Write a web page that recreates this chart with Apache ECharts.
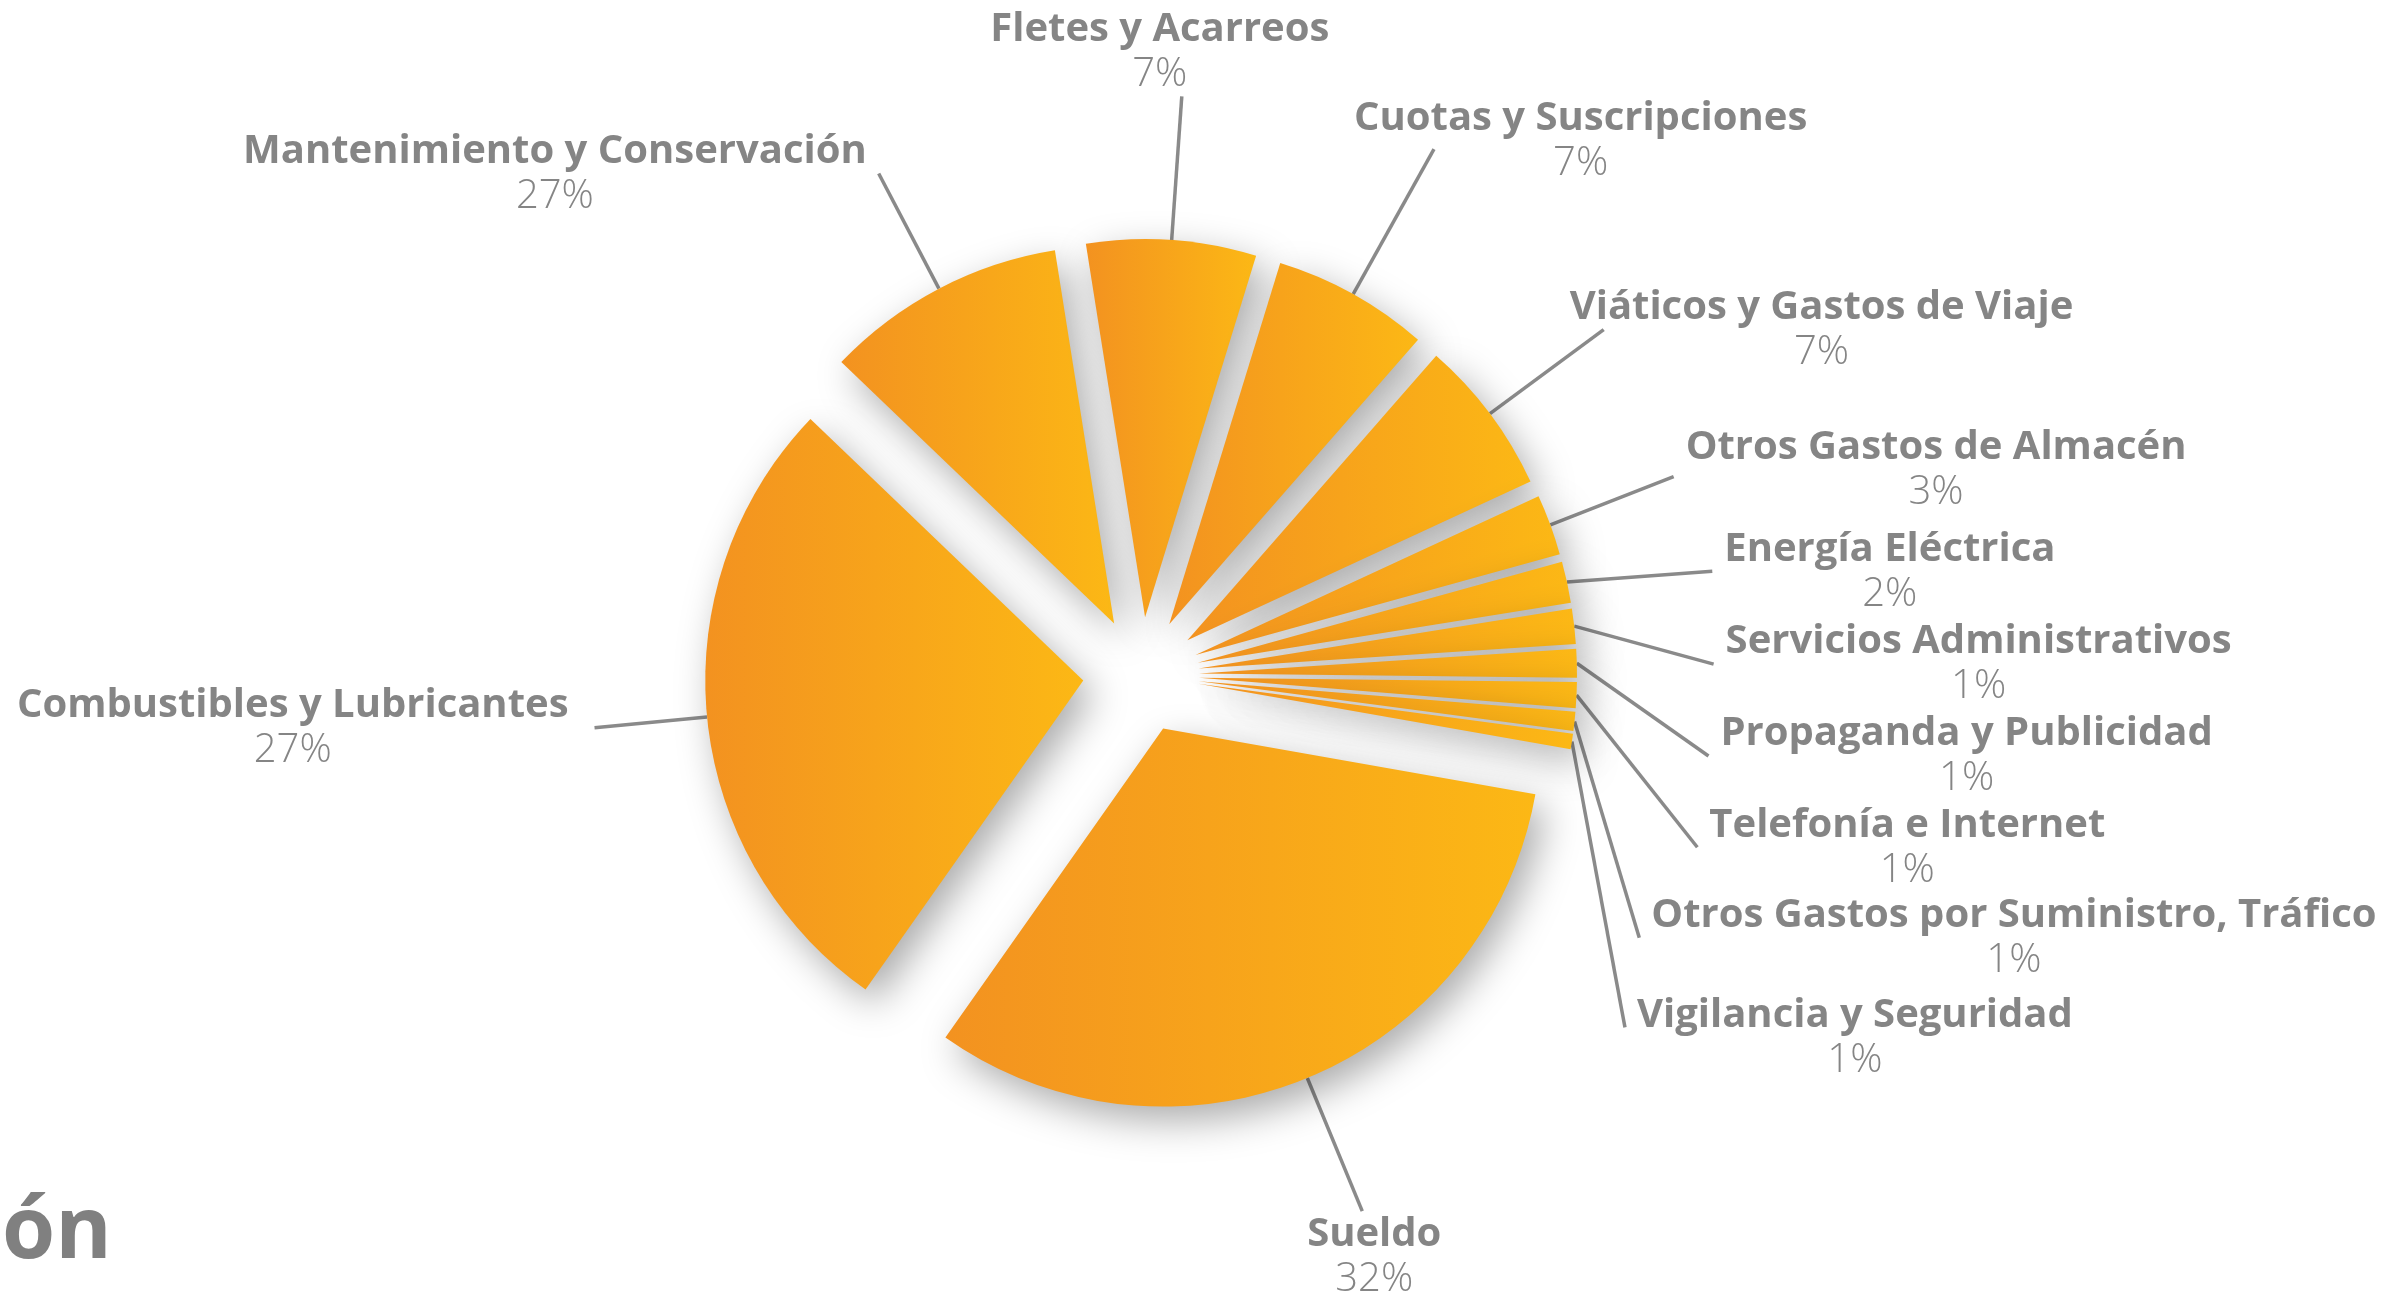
<!DOCTYPE html>
<html>
<head>
<meta charset="utf-8">
<script src="https://cdn.jsdelivr.net/npm/echarts/dist/echarts.min.js"></script>
<style>
html,body{margin:0;padding:0;background:#ffffff;}
#chart{width:2381px;height:1296px;}
</style>
</head>
<body>
<div id="chart"></div>
<script>
// ---- data (clockwise from the top-left slice) ----
const categories = [
  'Mantenimiento y Conservación',
  'Fletes y Acarreos',
  'Cuotas y Suscripciones',
  'Viáticos y Gastos de Viaje',
  'Otros Gastos de Almacén',
  'Energía Eléctrica',
  'Servicios Administrativos',
  'Propaganda y Publicidad',
  'Telefonía e Internet',
  'Otros Gastos por Suministro, Tráfico',
  'Vigilancia y Seguridad',
  'Sueldo',
  'Combustibles y Lubricantes'
];
const values = [10.33, 7.25, 6.69, 6.67, 2.60, 1.76, 1.50, 1.22, 1.11, 0.81, 0.67, 32.0, 27.4];
const pctLabels = ['27%', '7%', '7%', '7%', '3%', '2%', '1%', '1%', '1%', '1%', '1%', '32%', '27%'];

// ---- style settings (per item) ----
const lineLengths = [130, 144, 166, 140, 140, 156, 149, 150, 161, 140, 200, 144, 113];
const labelAdjust = {
  1: {align: 'center', verticalAlign: 'bottom', dx: -10},
  2: {dx: -92, dy: -8},
  3: {dx: -46},
  4: {dy: -7},
  10: {dy: 10},
  11: {align: 'center', verticalAlign: 'top'},
  12: {dx: -14}
};
const ownLabelSeries = [1]; // label drawn by a separate label layer (keeps the top label out of the right-side stacking)

const grey = '#858585';
const chart = echarts.init(document.getElementById('chart'), null, {renderer: 'canvas'});
const fill = new echarts.graphic.LinearGradient(0, 0, 1, 0, [
  {offset: 0, color: '#F39220'},
  {offset: 1, color: '#FCB815'}
]);

function labelCfg(dist) {
  return {
    show: true,
    position: 'outside',
    alignTo: 'none',
    bleedMargin: 0,
    distanceToLabelLine: dist,
    overflow: 'none',
    formatter: p => '{n|' + p.name + '}\n{p|' + pctLabels[p.dataIndex] + '}',
    rich: {
      n: {fontFamily: 'Open Sans', fontWeight: 'bold', fontSize: 40, lineHeight: 46, color: grey, align: 'center'},
      p: {fontFamily: 'Open Sans', fontWeight: 300, fontSize: 40, lineHeight: 44, color: grey, align: 'center'}
    }
  };
}
const lineCfg = {show: true, length2: 0, smooth: false, minTurnAngle: 0, maxSurfaceAngle: 180,
  lineStyle: {color: '#8a8a8a', width: 3.5}};

function makeData(layer) {
  return categories.map((name, i) => {
    const own = ownLabelSeries.indexOf(i) >= 0;
    const show = layer === 0 ? !own : own;
    return {
      name: name,
      value: values[i],
      selected: true,
      label: {show: show},
      labelLine: {show: show, length: lineLengths[i]}
    };
  });
}

const common = {
  type: 'pie',
  center: [1141, 675],
  radius: 378,
  startAngle: 136.2,
  clockwise: true,
  selectedMode: 'multiple',
  selectedOffset: 58,
  avoidLabelOverlap: true,
  labelLine: lineCfg,
  emphasis: {disabled: true},
  labelLayout: function (params) {
    return labelAdjust[params.dataIndex] || {};
  }
};

const option = {
  animation: false,
  backgroundColor: '#ffffff',
  title: {
    text: 'ón', left: 2, top: 1190, padding: 0,
    textStyle: {fontFamily: 'Open Sans', fontWeight: 'bold', fontSize: 86, color: '#808080'}
  },
  series: [
    Object.assign({}, common, {
      name: 'slices',
      data: makeData(0),
      label: labelCfg(12),
      itemStyle: {color: fill, shadowBlur: 38, shadowColor: 'rgba(0,0,0,0.33)', shadowOffsetX: 10, shadowOffsetY: 14}
    }),
    Object.assign({}, common, {
      name: 'labels',
      silent: true,
      data: makeData(1),
      label: labelCfg(-12),
      itemStyle: {color: 'rgba(0,0,0,0)'}
    })
  ]
};
chart.setOption(option);
</script>
</body>
</html>
